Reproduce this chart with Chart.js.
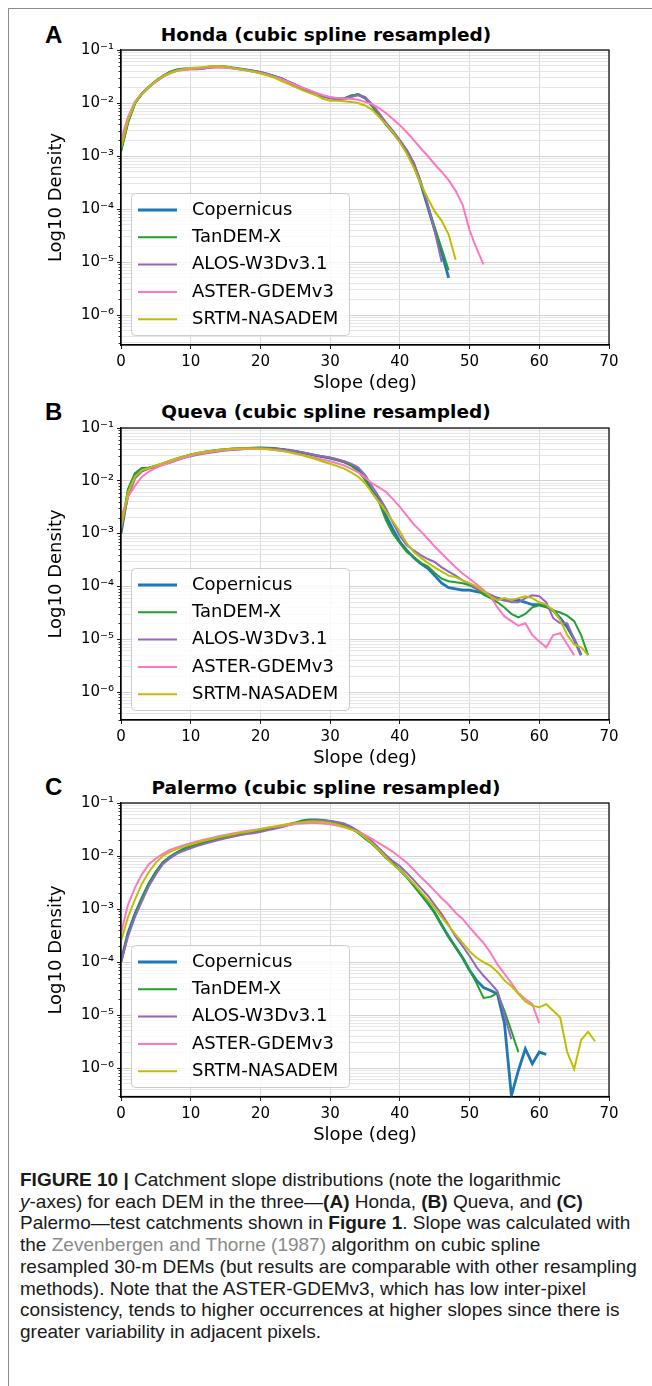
<!DOCTYPE html>
<html>
<head>
<meta charset="utf-8">
<script src="https://cdn.jsdelivr.net/npm/chart.js@4.4.1/dist/chart.umd.min.js"></script>
<style>
  html, body { margin: 0; padding: 0; background: #fff; }
  body { width: 652px; height: 1386px; position: relative; overflow: hidden; font-family: 'DejaVu Sans', sans-serif; }
  .frame { position: absolute; left: 8px; top: 8px; width: 700px; height: 1400px; border-left: 1px solid #8c8c8c; border-top: 1px solid #8c8c8c; }
  canvas { position: absolute; left: 0; }
  .letter { position: absolute; left: 45px; font: bold 24px 'Liberation Sans', Arial, sans-serif; line-height: 24px; color: #000; }
  .title { position: absolute; left: 0; width: 652px; text-align: center; font: bold 18.5px 'DejaVu Sans', sans-serif; line-height: 22px; color: #000; }
  .caption { position: absolute; left: 20px; top: 1169px; font: 19px 'Liberation Sans', Arial, sans-serif; line-height: 21.7px; color: #1a1a1a; white-space: nowrap; }
  .caption .ref { color: #8a8a8a; }
</style>
</head>
<body>
<div class="frame"></div>

<div class="letter" style="top:23px">A</div>
<div class="title" style="top:24px">Honda (cubic spline resampled)</div>
<canvas id="chartA" width="652" height="394" style="top:0"></canvas>

<div class="letter" style="top:400px">B</div>
<div class="title" style="top:401px">Queva (cubic spline resampled)</div>
<canvas id="chartB" width="652" height="375" style="top:394px"></canvas>

<div class="letter" style="top:775px">C</div>
<div class="title" style="top:777px">Palermo (cubic spline resampled)</div>
<canvas id="chartC" width="652" height="377" style="top:769px"></canvas>

<div class="caption">
<b>FIGURE 10 |</b> Catchment slope distributions (note the logarithmic<br>
<i>y</i>-axes) for each DEM in the three—<b>(A)</b> Honda, <b>(B)</b> Queva, and <b>(C)</b><br>
Palermo—test catchments shown in <b>Figure 1</b>. Slope was calculated with<br>
the <span class="ref">Zevenbergen and Thorne (1987)</span> algorithm on cubic spline<br>
resampled 30-m DEMs (but results are comparable with other resampling<br>
methods). Note that the ASTER-GDEMv3, which has low inter-pixel<br>
consistency, tends to higher occurrences at higher slopes since there is<br>
greater variability in adjacent pixels.
</div>

<script>
// --- data: density per 1-degree slope bin, index = slope (deg) ---
const seriesNames = ['Copernicus', 'TanDEM-X', 'ALOS-W3Dv3.1', 'ASTER-GDEMv3', 'SRTM-NASADEM'];
const seriesColors = ['#1f77b4', '#22a02c', '#9467bd', '#ff77c0', '#bfbf00'];
const seriesWidths = [2.8, 2, 2, 2, 2];

const xTicks = [0, 10, 20, 30, 40, 50, 60, 70];
const yTickValues = [1e-1, 1e-2, 1e-3, 1e-4, 1e-5, 1e-6];
const yTickLabels = ['10⁻¹', '10⁻²', '10⁻³', '10⁻⁴', '10⁻⁵', '10⁻⁶'];

// Honda
const hondaCopernicus = [
  1.3e-3, 4.5e-3, 1.0e-2, 1.5e-2, 2.0e-2, 2.6e-2, 3.2e-2, 3.8e-2, 4.2e-2, 4.4e-2,
  4.4e-2, 4.4e-2, 4.6e-2, 4.8e-2, 4.9e-2, 4.8e-2, 4.6e-2, 4.4e-2, 4.2e-2, 4.0e-2,
  3.8e-2, 3.5e-2, 3.2e-2, 2.9e-2, 2.5e-2, 2.2e-2, 1.9e-2, 1.7e-2, 1.5e-2, 1.35e-2,
  1.25e-2, 1.2e-2, 1.2e-2, 1.35e-2, 1.45e-2, 1.25e-2, 9.0e-3, 6.0e-3, 4.0e-3, 2.8e-3,
  1.9e-3, 1.25e-3, 7.0e-4, 3.0e-4, 1.1e-4, 4.0e-5, 1.5e-5, 5.0e-6];
const hondaTanDEM = [
  1.2e-3, 4.3e-3, 1.0e-2, 1.5e-2, 2.0e-2, 2.6e-2, 3.2e-2, 3.8e-2, 4.2e-2, 4.4e-2,
  4.4e-2, 4.5e-2, 4.6e-2, 4.8e-2, 4.9e-2, 4.8e-2, 4.6e-2, 4.4e-2, 4.2e-2, 4.0e-2,
  3.8e-2, 3.5e-2, 3.2e-2, 2.9e-2, 2.5e-2, 2.2e-2, 1.9e-2, 1.7e-2, 1.5e-2, 1.35e-2,
  1.25e-2, 1.2e-2, 1.22e-2, 1.38e-2, 1.45e-2, 1.25e-2, 9.0e-3, 6.0e-3, 4.0e-3, 2.8e-3,
  1.9e-3, 1.25e-3, 7.2e-4, 3.2e-4, 1.2e-4, 4.5e-5, 1.8e-5, 7.0e-6];
const hondaALOS = [
  1.4e-3, 4.6e-3, 1.0e-2, 1.5e-2, 2.0e-2, 2.55e-2, 3.1e-2, 3.7e-2, 4.1e-2, 4.3e-2,
  4.4e-2, 4.4e-2, 4.5e-2, 4.7e-2, 4.8e-2, 4.75e-2, 4.6e-2, 4.4e-2, 4.2e-2, 4.0e-2,
  3.8e-2, 3.5e-2, 3.2e-2, 2.9e-2, 2.5e-2, 2.2e-2, 1.9e-2, 1.7e-2, 1.5e-2, 1.35e-2,
  1.25e-2, 1.2e-2, 1.2e-2, 1.3e-2, 1.4e-2, 1.3e-2, 9.5e-3, 6.5e-3, 4.3e-3, 3.0e-3,
  2.0e-3, 1.3e-3, 7.5e-4, 3.3e-4, 1.2e-4, 3.8e-5, 1.0e-5];
const hondaASTER = [
  2.0e-3, 5.5e-3, 1.05e-2, 1.5e-2, 2.0e-2, 2.5e-2, 3.1e-2, 3.6e-2, 4.0e-2, 4.2e-2,
  4.4e-2, 4.5e-2, 4.6e-2, 4.7e-2, 4.7e-2, 4.6e-2, 4.5e-2, 4.3e-2, 4.1e-2, 3.9e-2,
  3.7e-2, 3.4e-2, 3.1e-2, 2.8e-2, 2.5e-2, 2.2e-2, 1.95e-2, 1.75e-2, 1.55e-2, 1.4e-2,
  1.3e-2, 1.25e-2, 1.2e-2, 1.2e-2, 1.15e-2, 1.05e-2, 9.5e-3, 8.0e-3, 6.5e-3, 5.0e-3,
  3.8e-3, 2.8e-3, 2.0e-3, 1.4e-3, 1.0e-3, 7.0e-4, 5.0e-4, 3.5e-4, 2.2e-4, 1.2e-4,
  4.0e-5, 1.8e-5, 9.0e-6];
const hondaSRTM = [
  1.4e-3, 4.8e-3, 1.0e-2, 1.5e-2, 2.0e-2, 2.6e-2, 3.2e-2, 3.7e-2, 4.1e-2, 4.4e-2,
  4.6e-2, 4.7e-2, 4.8e-2, 5.0e-2, 5.0e-2, 4.9e-2, 4.6e-2, 4.4e-2, 4.1e-2, 3.9e-2,
  3.6e-2, 3.3e-2, 3.0e-2, 2.6e-2, 2.3e-2, 2.0e-2, 1.75e-2, 1.55e-2, 1.4e-2, 1.2e-2,
  1.1e-2, 1.1e-2, 1.08e-2, 1.05e-2, 1.0e-2, 9.0e-3, 7.5e-3, 5.5e-3, 4.0e-3, 2.8e-3,
  1.8e-3, 1.1e-3, 6.0e-4, 3.0e-4, 1.6e-4, 9.0e-5, 6.0e-5, 3.3e-5, 1.1e-5];

// Queva
const quevaCopernicus = [
  1.0e-3, 6.0e-3, 1.3e-2, 1.7e-2, 1.75e-2, 1.9e-2, 2.1e-2, 2.35e-2, 2.6e-2, 2.85e-2,
  3.1e-2, 3.3e-2, 3.5e-2, 3.65e-2, 3.8e-2, 3.9e-2, 4.0e-2, 4.05e-2, 4.1e-2, 4.15e-2,
  4.2e-2, 4.15e-2, 4.1e-2, 3.95e-2, 3.8e-2, 3.6e-2, 3.4e-2, 3.2e-2, 3.0e-2, 2.85e-2,
  2.7e-2, 2.5e-2, 2.3e-2, 2.0e-2, 1.6e-2, 1.1e-2, 6.5e-3, 4.3e-3, 2.2e-3, 1.2e-3,
  7.0e-4, 4.8e-4, 3.5e-4, 2.7e-4, 2.2e-4, 1.6e-4, 1.15e-4, 9.5e-5, 9.0e-5, 8.5e-5,
  8.5e-5, 8.0e-5, 7.5e-5, 6.5e-5, 6.0e-5, 5.5e-5, 5.5e-5, 5.5e-5, 5.0e-5, 4.5e-5,
  4.5e-5, 4.2e-5, 3.5e-5, 2.5e-5, 1.7e-5, 1.0e-5, 5.0e-6];
const quevaTanDEM = [
  1.1e-3, 7.0e-3, 1.4e-2, 1.75e-2, 1.75e-2, 1.9e-2, 2.1e-2, 2.35e-2, 2.6e-2, 2.85e-2,
  3.1e-2, 3.3e-2, 3.5e-2, 3.65e-2, 3.8e-2, 3.9e-2, 4.0e-2, 4.05e-2, 4.1e-2, 4.15e-2,
  4.2e-2, 4.15e-2, 4.1e-2, 3.95e-2, 3.8e-2, 3.6e-2, 3.4e-2, 3.2e-2, 3.0e-2, 2.85e-2,
  2.7e-2, 2.5e-2, 2.25e-2, 1.95e-2, 1.55e-2, 1.05e-2, 6.0e-3, 4.0e-3, 1.8e-3, 1.0e-3,
  6.6e-4, 4.5e-4, 3.6e-4, 2.8e-4, 2.4e-4, 1.8e-4, 1.4e-4, 1.25e-4, 1.2e-4, 1.15e-4,
  1.05e-4, 9.0e-5, 7.0e-5, 6.0e-5, 5.0e-5, 4.0e-5, 3.0e-5, 2.6e-5, 3.0e-5, 4.0e-5,
  4.4e-5, 4.0e-5, 3.5e-5, 3.2e-5, 2.8e-5, 2.2e-5, 1.2e-5, 5.0e-6];
const quevaALOS = [
  1.2e-3, 5.0e-3, 1.1e-2, 1.5e-2, 1.7e-2, 1.85e-2, 2.0e-2, 2.2e-2, 2.45e-2, 2.7e-2,
  2.9e-2, 3.1e-2, 3.3e-2, 3.45e-2, 3.6e-2, 3.75e-2, 3.85e-2, 3.95e-2, 4.0e-2, 4.05e-2,
  4.1e-2, 4.1e-2, 4.05e-2, 3.95e-2, 3.8e-2, 3.65e-2, 3.45e-2, 3.25e-2, 3.05e-2, 2.9e-2,
  2.75e-2, 2.55e-2, 2.35e-2, 2.1e-2, 1.8e-2, 1.3e-2, 8.0e-3, 5.0e-3, 3.0e-3, 1.6e-3,
  9.0e-4, 6.0e-4, 4.8e-4, 3.9e-4, 3.3e-4, 2.9e-4, 2.3e-4, 1.9e-4, 1.6e-4, 1.3e-4,
  1.1e-4, 9.0e-5, 8.0e-5, 7.0e-5, 6.0e-5, 5.5e-5, 5.0e-5, 5.0e-5, 6.0e-5, 6.8e-5,
  6.5e-5, 5.0e-5, 2.5e-5, 2.0e-5, 2.0e-5, 1.0e-5, 5.0e-6];
const quevaASTER = [
  2.0e-3, 5.0e-3, 8.0e-3, 1.2e-2, 1.5e-2, 1.75e-2, 2.0e-2, 2.25e-2, 2.5e-2, 2.75e-2,
  3.0e-2, 3.2e-2, 3.4e-2, 3.55e-2, 3.7e-2, 3.8e-2, 3.9e-2, 3.95e-2, 4.0e-2, 4.0e-2,
  4.0e-2, 3.95e-2, 3.85e-2, 3.7e-2, 3.5e-2, 3.3e-2, 3.1e-2, 2.9e-2, 2.7e-2, 2.5e-2,
  2.35e-2, 2.15e-2, 1.95e-2, 1.7e-2, 1.45e-2, 1.15e-2, 9.0e-3, 7.5e-3, 6.2e-3, 4.5e-3,
  3.2e-3, 2.2e-3, 1.5e-3, 1.1e-3, 8.0e-4, 5.7e-4, 4.2e-4, 3.1e-4, 2.3e-4, 1.75e-4,
  1.4e-4, 1.1e-4, 8.5e-5, 6.5e-5, 4.0e-5, 2.7e-5, 2.2e-5, 1.8e-5, 2.0e-5, 1.2e-5,
  9.0e-6, 7.0e-6, 1.2e-5, 1.3e-5, 8.0e-6, 5.0e-6];
const quevaSRTM = [
  1.3e-3, 6.0e-3, 1.2e-2, 1.6e-2, 1.75e-2, 1.95e-2, 2.15e-2, 2.4e-2, 2.65e-2, 2.9e-2,
  3.15e-2, 3.35e-2, 3.55e-2, 3.7e-2, 3.85e-2, 3.95e-2, 4.05e-2, 4.1e-2, 4.15e-2, 4.15e-2,
  4.1e-2, 4.0e-2, 3.85e-2, 3.7e-2, 3.5e-2, 3.3e-2, 3.05e-2, 2.8e-2, 2.55e-2, 2.3e-2,
  2.1e-2, 1.9e-2, 1.7e-2, 1.45e-2, 1.2e-2, 9.0e-3, 6.0e-3, 4.0e-3, 2.6e-3, 1.7e-3,
  1.1e-3, 6.5e-4, 4.5e-4, 3.5e-4, 2.8e-4, 2.3e-4, 1.9e-4, 1.6e-4, 1.5e-4, 1.3e-4,
  1.15e-4, 1.0e-4, 8.0e-5, 6.5e-5, 5.5e-5, 6.0e-5, 5.5e-5, 6.0e-5, 6.5e-5, 6.0e-5,
  5.0e-5, 4.5e-5, 3.5e-5, 2.3e-5, 1.2e-5, 8.0e-6, 7.0e-6, 5.0e-6];

// Palermo
const palermoCopernicus = [
  1.0e-4, 3.5e-4, 8.0e-4, 1.6e-3, 3.0e-3, 5.0e-3, 7.5e-3, 9.5e-3, 1.15e-2, 1.35e-2,
  1.5e-2, 1.65e-2, 1.8e-2, 1.95e-2, 2.1e-2, 2.25e-2, 2.4e-2, 2.55e-2, 2.7e-2, 2.85e-2,
  3.0e-2, 3.2e-2, 3.4e-2, 3.65e-2, 3.9e-2, 4.2e-2, 4.6e-2, 4.8e-2, 4.8e-2, 4.7e-2,
  4.5e-2, 4.2e-2, 3.9e-2, 3.4e-2, 2.8e-2, 2.2e-2, 1.75e-2, 1.3e-2, 9.5e-3, 7.2e-3,
  5.5e-3, 4.0e-3, 2.8e-3, 1.9e-3, 1.3e-3, 8.5e-4, 5.0e-4, 3.0e-4, 1.9e-4, 1.2e-4,
  7.0e-5, 4.5e-5, 3.3e-5, 2.9e-5, 2.5e-5, 7.0e-6, 3.0e-7, 9.0e-7, 2.3e-6, 1.2e-6,
  2.0e-6, 1.8e-6];
const palermoTanDEM = [
  1.1e-4, 3.3e-4, 7.5e-4, 1.6e-3, 3.0e-3, 5.0e-3, 7.5e-3, 9.5e-3, 1.15e-2, 1.35e-2,
  1.5e-2, 1.65e-2, 1.8e-2, 1.95e-2, 2.1e-2, 2.25e-2, 2.4e-2, 2.55e-2, 2.7e-2, 2.85e-2,
  3.0e-2, 3.2e-2, 3.4e-2, 3.65e-2, 3.9e-2, 4.2e-2, 4.6e-2, 4.8e-2, 4.8e-2, 4.7e-2,
  4.5e-2, 4.2e-2, 3.85e-2, 3.35e-2, 2.75e-2, 2.15e-2, 1.7e-2, 1.3e-2, 9.5e-3, 7.2e-3,
  5.5e-3, 4.0e-3, 2.8e-3, 1.9e-3, 1.3e-3, 8.5e-4, 5.0e-4, 3.0e-4, 1.9e-4, 1.2e-4,
  7.0e-5, 4.0e-5, 2.1e-5, 2.2e-5, 2.6e-5, 1.2e-5, 5.0e-6, 2.0e-6];
const palermoALOS = [
  1.0e-4, 3.0e-4, 7.0e-4, 1.4e-3, 2.7e-3, 4.5e-3, 7.0e-3, 9.0e-3, 1.1e-2, 1.25e-2,
  1.4e-2, 1.55e-2, 1.7e-2, 1.85e-2, 2.0e-2, 2.15e-2, 2.3e-2, 2.45e-2, 2.6e-2, 2.7e-2,
  2.85e-2, 3.05e-2, 3.25e-2, 3.5e-2, 3.8e-2, 4.1e-2, 4.4e-2, 4.6e-2, 4.7e-2, 4.7e-2,
  4.6e-2, 4.4e-2, 4.1e-2, 3.6e-2, 3.0e-2, 2.4e-2, 1.9e-2, 1.4e-2, 1.05e-2, 8.0e-3,
  6.5e-3, 4.8e-3, 3.5e-3, 2.5e-3, 1.8e-3, 1.2e-3, 8.0e-4, 5.0e-4, 3.0e-4, 2.0e-4,
  1.3e-4, 8.0e-5, 5.5e-5, 4.0e-5, 2.8e-5, 1.0e-5, 3.5e-6];
const palermoASTER = [
  3.5e-4, 1.2e-3, 2.5e-3, 4.5e-3, 7.0e-3, 9.0e-3, 1.1e-2, 1.3e-2, 1.45e-2, 1.6e-2,
  1.75e-2, 1.9e-2, 2.05e-2, 2.2e-2, 2.35e-2, 2.5e-2, 2.65e-2, 2.8e-2, 2.95e-2, 3.1e-2,
  3.25e-2, 3.4e-2, 3.55e-2, 3.7e-2, 3.85e-2, 4.0e-2, 4.1e-2, 4.2e-2, 4.2e-2, 4.1e-2,
  3.95e-2, 3.75e-2, 3.5e-2, 3.2e-2, 2.85e-2, 2.5e-2, 2.1e-2, 1.75e-2, 1.45e-2, 1.2e-2,
  9.5e-3, 7.5e-3, 5.5e-3, 4.0e-3, 3.0e-3, 2.2e-3, 1.6e-3, 1.2e-3, 8.5e-4, 6.5e-4,
  4.5e-4, 3.2e-4, 2.3e-4, 1.5e-4, 9.0e-5, 6.0e-5, 4.0e-5, 2.6e-5, 2.0e-5, 1.6e-5,
  7.0e-6];
const palermoSRTM = [
  2.5e-4, 7.0e-4, 1.5e-3, 3.0e-3, 5.0e-3, 7.5e-3, 1.0e-2, 1.2e-2, 1.35e-2, 1.5e-2,
  1.65e-2, 1.8e-2, 1.95e-2, 2.1e-2, 2.25e-2, 2.4e-2, 2.55e-2, 2.7e-2, 2.85e-2, 3.0e-2,
  3.2e-2, 3.4e-2, 3.6e-2, 3.8e-2, 4.0e-2, 4.2e-2, 4.35e-2, 4.5e-2, 4.5e-2, 4.4e-2,
  4.2e-2, 3.95e-2, 3.6e-2, 3.2e-2, 2.8e-2, 2.25e-2, 1.75e-2, 1.3e-2, 9.5e-3, 7.0e-3,
  5.5e-3, 4.0e-3, 3.0e-3, 2.1e-3, 1.5e-3, 1.05e-3, 7.0e-4, 4.8e-4, 3.3e-4, 2.3e-4,
  1.6e-4, 1.2e-4, 1.0e-4, 8.5e-5, 6.5e-5, 4.5e-5, 3.5e-5, 2.5e-5, 1.8e-5, 1.5e-5,
  1.4e-5, 1.6e-5, 1.2e-5, 9.0e-6, 2.0e-6, 9.5e-7, 3.4e-6, 4.8e-6, 3.2e-6];

// --- layout of the three panels ---
const panels = [
  { id: 'chartA', padTop: 50, yMin: 2.72e-7,
    series: [hondaCopernicus, hondaTanDEM, hondaALOS, hondaASTER, hondaSRTM] },
  { id: 'chartB', padTop: 34, yMin: 2.95e-7,
    series: [quevaCopernicus, quevaTanDEM, quevaALOS, quevaASTER, quevaSRTM] },
  { id: 'chartC', padTop: 34, yMin: 2.84e-7,
    series: [palermoCopernicus, palermoTanDEM, palermoALOS, palermoASTER, palermoSRTM] }
];

const FONT = "'DejaVu Sans', sans-serif";

// legend box in the lower left corner of the plot, like matplotlib's
const insideLegend = {
  id: 'insideLegend',
  afterDatasetsDraw(chart) {
    const { ctx, chartArea } = chart;
    const w = 218, h = 142;
    const x = chartArea.left + 10, y = chartArea.bottom - 10 - h;
    ctx.save();
    ctx.beginPath();
    ctx.roundRect(x + 0.5, y + 0.5, w, h, 4);
    ctx.fillStyle = 'rgba(255,255,255,0.8)';
    ctx.fill();
    ctx.strokeStyle = '#cccccc';
    ctx.lineWidth = 1;
    ctx.stroke();
    ctx.font = '18px ' + FONT;
    ctx.textBaseline = 'middle';
    seriesNames.forEach((name, i) => {
      const cy = y + 17 + i * 27.3;
      ctx.strokeStyle = seriesColors[i];
      ctx.lineWidth = seriesWidths[i];
      ctx.beginPath();
      ctx.moveTo(x + 7, cy);
      ctx.lineTo(x + 46, cy);
      ctx.stroke();
      ctx.fillStyle = '#000';
      ctx.fillText(name, x + 61, cy);
    });
    ctx.restore();
  }
};

// top/right spines and short minor ticks on the y axis
const frameBox = {
  id: 'frameBox',
  afterDraw(chart) {
    const { ctx, chartArea: a } = chart;
    const ys = chart.scales.y;
    ctx.save();
    ctx.strokeStyle = '#000';
    ctx.lineWidth = 1.2;
    ctx.strokeRect(a.left, a.top, a.right - a.left, a.bottom - a.top);
    ctx.lineWidth = 0.8;
    ys.ticks.forEach(t => {
      if (t.major) return;
      const py = Math.round(ys.getPixelForValue(t.value)) + 0.5;
      ctx.beginPath();
      ctx.moveTo(a.left - 2.5, py);
      ctx.lineTo(a.left, py);
      ctx.stroke();
    });
    ctx.restore();
  }
};

function yLabel(v) {
  const i = yTickValues.findIndex(t => Math.abs(t - v) / t < 1e-6);
  return i >= 0 ? yTickLabels[i] : '';
}

panels.forEach(p => {
  const datasets = p.series.map((vals, i) => ({
    label: seriesNames[i],
    data: vals.map((v, s) => ({ x: s, y: v })),
    borderColor: seriesColors[i],
    borderWidth: seriesWidths[i],
    pointRadius: 0,
    tension: 0,
    fill: false,
    order: 5 - i
  }));

  new Chart(document.getElementById(p.id), {
    type: 'line',
    data: { datasets },
    options: {
      responsive: false,
      animation: false,
      events: [],
      layout: { padding: { left: 40, right: 43, top: p.padTop, bottom: 0 } },
      plugins: { legend: { display: false }, tooltip: { enabled: false } },
      scales: {
        x: {
          type: 'linear', min: 0, max: 70,
          afterBuildTicks: s => { s.ticks = xTicks.map(v => ({ value: v })); },
          afterFit: s => { s.height = 49; },
          ticks: { color: '#000', font: { family: FONT, size: 15 }, padding: 4, maxRotation: 0 },
          grid: { color: '#d6d6d6', lineWidth: 0.9, tickLength: 4, tickColor: '#000' },
          border: { color: '#000', width: 1.2 },
          title: { display: true, text: 'Slope (deg)', color: '#000',
                   font: { family: FONT, size: 18 }, padding: { top: 0, bottom: 0 } }
        },
        y: {
          type: 'logarithmic', min: p.yMin, max: 0.1,
          afterBuildTicks: s => {
            const ticks = [];
            for (let e = -7; e <= -1; e++) {
              for (let m = 1; m <= 9; m++) {
                const v = m * Math.pow(10, e);
                if (v >= s.min * 0.999 && v <= s.max * 1.001) ticks.push({ value: v, major: m === 1 });
              }
            }
            s.ticks = ticks;
          },
          afterFit: s => { s.width = 81; },
          ticks: { color: '#000', font: { family: FONT, size: 15 }, padding: 3, autoSkip: false,
                   callback: v => yLabel(v) },
          grid: {
            color: c => (c.tick && c.tick.major ? '#cdcdcd' : '#e3e3e3'),
            lineWidth: 0.9, tickLength: 4,
            tickColor: c => (c.tick && c.tick.major ? '#000' : 'rgba(0,0,0,0)')
          },
          border: { color: '#000', width: 1.2 },
          title: { display: true, text: 'Log10 Density', color: '#000',
                   font: { family: FONT, size: 18 }, padding: { top: 6, bottom: 0 } }
        }
      }
    },
    plugins: [insideLegend, frameBox]
  });
});
</script>
</body>
</html>
